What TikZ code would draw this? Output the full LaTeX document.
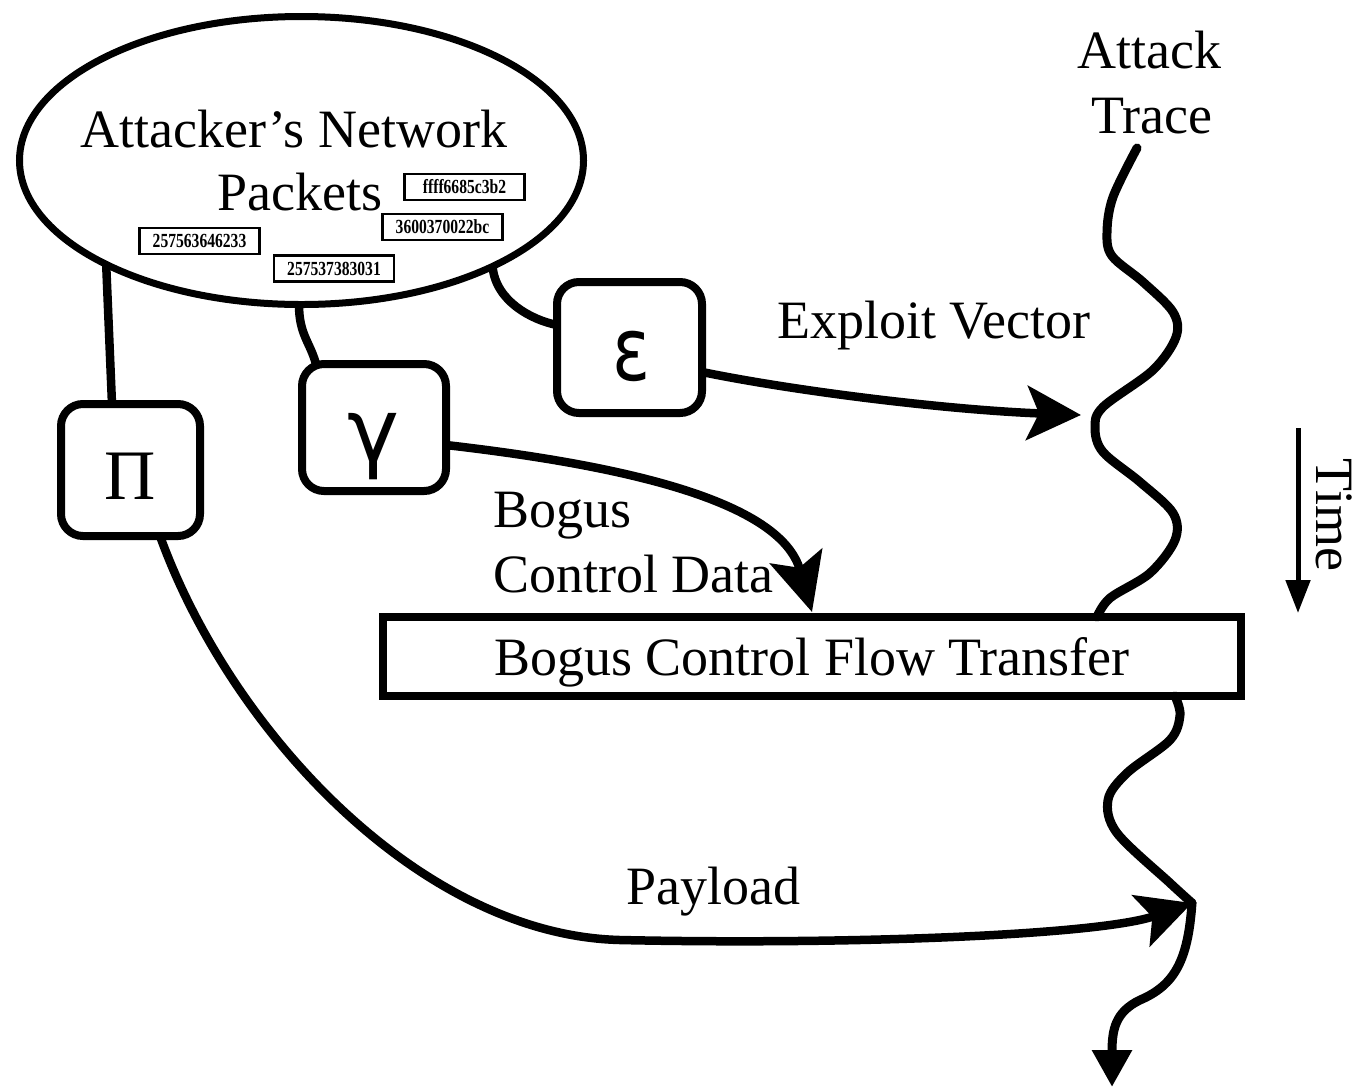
\documentclass[tikz,border=0pt]{standalone}
\usepackage{fontspec}
\usepackage{graphicx}
\setmainfont{Liberation Serif}
\newfontfamily\dejavu{DejaVu Sans}
\usetikzlibrary{arrows.meta,shapes.geometric}
\newcommand{\pkttext}[1]{\scalebox{0.78}[1]{#1}}
\begin{document}
\begin{tikzpicture}[x=1pt,y=-1pt,
  every node/.style={outer sep=0pt,inner sep=0pt},
  lbl/.style={font=\fontsize{54}{60}\selectfont},
  gbox/.style={draw,line width=8pt,rounded corners=22pt},
  pkt/.style={draw,line width=2.4pt,minimum width=120pt,minimum height=26pt,font=\fontsize{20}{20}\selectfont\bfseries},
  conn/.style={line width=8.5pt},
  trace/.style={line width=9pt,line cap=round,line join=round},
  bigstealth/.style={-{Stealth[length=54pt,width=54pt,inset=12pt]}}
]
\useasboundingbox[fill=white] (0,0) rectangle (1364,1088);

% ellipse with network packets
\node[ellipse,draw,line width=7pt,minimum width=564pt,minimum height=288pt] (ell) at (301.5,160.5) {};
\node[lbl,anchor=base] (t1) at (294,147) {Attacker’s Network};
\node[lbl,anchor=base] (t2) at (300,210) {Packets};
\node[pkt] (p1) at (464.5,187) {\pkttext{ffff6685c3b2}};
\node[pkt] (p2) at (442.5,227) {\pkttext{3600370022bc}};
\node[pkt] (p3) at (199.5,241) {\pkttext{257563646233}};
\node[pkt] (p4) at (334,268.5) {\pkttext{257537383031}};

% greek boxes
\node[gbox,minimum width=139pt,minimum height=132pt] (pi) at (130.5,470) {};
\node[font=\fontsize{71}{71}\selectfont] (pil) at (130.5,476.5) {Π};
\node[gbox,minimum width=144pt,minimum height=127pt] (gam) at (374,427.5) {};
\node[font=\dejavu\fontsize{88}{88}\selectfont] (gaml) at (374,446.5) {γ};
\node[gbox,minimum width=145pt,minimum height=131pt] (eps) at (629.5,347.5) {};
\node[font=\dejavu\fontsize{88}{88}\selectfont,xscale=0.8] (epsl) at (632,356) {ε};

% bogus control flow transfer box
\node[draw,line width=8pt,minimum width=858pt,minimum height=79pt,lbl,text depth=0pt] (bcft) at (812,656.5) {Bogus Control Flow Transfer};

% ellipse connectors
\draw[conn] (ell.208) -- ([xshift=-18.5pt]pi.north);
\draw[conn] (ell.269.4) .. controls +(0,30) and +(-6,-22) .. ([xshift=-58pt]gam.north);
\draw[conn] (ell.331.6) .. controls +(3,35) and +(-25,-5) .. ([yshift=22.5pt]eps.west);

% labels
\node[lbl,anchor=base] (ev) at (934,338) {Exploit Vector};
\node[lbl,anchor=base west] (bg) at (493,527) {Bogus};
\node[lbl,anchor=base west] (cd) at (493,592) {Control Data};
\node[lbl,anchor=base] (pl) at (713,904) {Payload};
\node[lbl,anchor=base] (at1) at (1149,68) {Attack};
\node[lbl,anchor=base] (at2) at (1151.5,133) {Trace};
\node[lbl,anchor=base,rotate=-90] (tm) at (1316,515) {Time};

% free ends
\coordinate (evtip) at (1081,415);
\coordinate (pltip) at (1192,903);
\coordinate (trtop) at (1137,148);
\coordinate (trend) at (1112,1087);
\coordinate (tA) at (1298,428);
\coordinate (tB) at (1298,613);

% arrows
\draw[conn,bigstealth] ([yshift=-24.5pt]eps.east) .. controls (800,392) and (950,410) .. (evtip);
\draw[conn,-{Stealth[length=58pt,width=54pt,inset=12pt]}] ([yshift=-17.5pt]gam.east) .. controls (620,465) and (780,500) .. ([yshift=5pt]bcft.north);
\draw[conn,bigstealth] ([xshift=29.5pt]pi.south) .. controls (230,730) and (420,935) .. (620,940) .. controls (850,945) and (1100,935) .. (pltip);

% attack trace
\draw[trace] plot[smooth,tension=0.55] coordinates {(trtop) (1113,197) (1107,232) (1112,256) (1143,282) (1173,312) (1176,337) (1153,370) (1103,407) (1095,428) (1103,452) (1140,482) (1173,513) (1175,540) (1150,573) (1110,598) ([xshift=285pt]bcft.north)};
\draw[trace] plot[smooth,tension=0.55] coordinates {([xshift=363pt]bcft.south) (1180,715) (1170,740) (1127,773) (1108,800) (1117,833) (1170,883) (pltip)};
\draw[trace,-{Triangle[length=37pt,width=38pt]}] (pltip) .. controls (1188,960) and (1175,985) .. (1140,1000) .. controls (1115,1012) and (1112,1030) .. (trend);

% time arrow
\draw[line width=5pt,-{Triangle[length=33pt,width=24pt]}] (tA) -- (tB);
\end{tikzpicture}
\end{document}
